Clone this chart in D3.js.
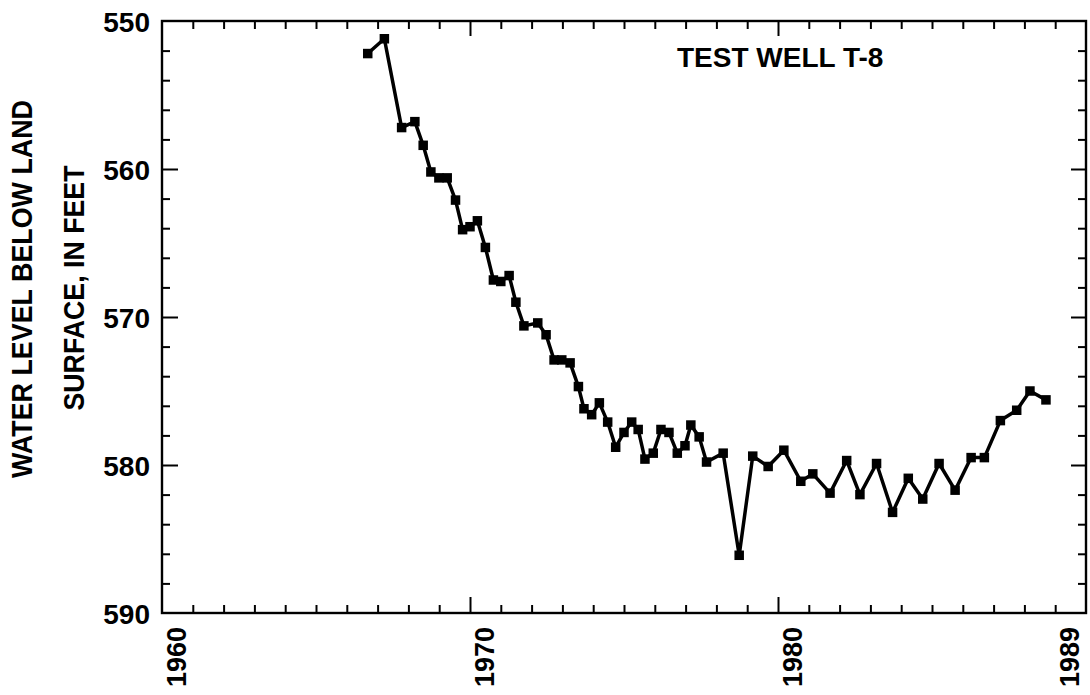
<!DOCTYPE html>
<html>
<head>
<meta charset="utf-8">
<script src="https://cdn.jsdelivr.net/npm/d3@7"></script>
<style>
  html, body { margin: 0; padding: 0; background: #fff; }
  svg { display: block; }
  text { font-family: "Liberation Sans", Arial, Helvetica, sans-serif; font-weight: bold; fill: #000; }
</style>
</head>
<body>
<svg id="chart" width="1090" height="695"></svg>
<script>
// ---- Data ----
const years = [
  1966.68, 1967.22, 1967.78, 1968.21, 1968.48, 1968.73, 1968.99, 1969.26,
  1969.53, 1969.76, 1970.00, 1970.24, 1970.50, 1970.76, 1971.00, 1971.27,
  1971.49, 1971.75, 1972.20, 1972.47, 1972.73, 1972.98, 1973.25, 1973.52,
  1973.70, 1973.95, 1974.20, 1974.47, 1974.73, 1975.00, 1975.25, 1975.46,
  1975.68, 1975.95, 1976.20, 1976.46, 1976.73, 1976.98, 1977.17, 1977.44,
  1977.68, 1978.22, 1978.74, 1979.18, 1979.68, 1980.19, 1980.74, 1981.13,
  1981.69, 1982.23, 1982.66, 1983.20, 1983.72, 1984.23, 1984.70, 1985.23,
  1985.75, 1986.27, 1986.70, 1987.22, 1987.75, 1988.18, 1988.70
];
const levels = [
  552.2, 551.2, 557.2, 556.8, 558.4, 560.2, 560.6, 560.6,
  562.1, 564.1, 563.9, 563.5, 565.3, 567.5, 567.6, 567.2,
  569.0, 570.6, 570.4, 571.2, 572.9, 572.9, 573.1, 574.7,
  576.2, 576.6, 575.8, 577.1, 578.8, 577.8, 577.1, 577.6,
  579.6, 579.2, 577.6, 577.8, 579.2, 578.7, 577.3, 578.1,
  579.8, 579.2, 586.1, 579.4, 580.1, 579.0, 581.1, 580.6,
  581.9, 579.7, 582.0, 579.9, 583.2, 580.9, 582.3, 579.9,
  581.7, 579.5, 579.5, 577.0, 576.3, 575.0, 575.6
];
const yTickValues = [550, 560, 570, 580, 590];
const yTickLabels = ["550", "560", "570", "580", "590"];
const xLabelYears = [1960, 1970, 1980, 1989];
const xTickLabels = ["1960", "1970", "1980", "1989"];
const title = "TEST WELL T-8";
const yTitleLines = ["WATER LEVEL BELOW LAND", "SURFACE, IN FEET"];

// ---- Layout ----
const svg = d3.select("#chart");
const L = 162, R = 1086, T = 21, B = 613;
const x = d3.scaleLinear().domain([1960, 1990]).range([L, R]);
const y = d3.scaleLinear().domain([550, 590]).range([T, B]);

const minorX = d3.range(1961, 1990).filter(v => v % 10 !== 0);
const majorX = [1970, 1980];
const minorY = d3.range(552, 590, 2).filter(v => v % 10 !== 0);
const majorY = [560, 570, 580];

// Ticks via d3 axes (inward)
function axisG(axis, tx, ty) {
  const g = svg.append("g").attr("transform", `translate(${tx},${ty})`).call(axis);
  g.select(".domain").remove();
  g.selectAll("text").remove();
  g.selectAll("line").attr("stroke", "#000").attr("stroke-width", 2);
  return g;
}
axisG(d3.axisBottom(x).tickValues(minorX).tickSize(-8), 0, B);
axisG(d3.axisBottom(x).tickValues(majorX).tickSize(-16), 0, B);
axisG(d3.axisTop(x).tickValues(minorX).tickSize(-8), 0, T);
axisG(d3.axisTop(x).tickValues(majorX).tickSize(-15), 0, T);
axisG(d3.axisLeft(y).tickValues(minorY).tickSize(-8), L, 0);
axisG(d3.axisLeft(y).tickValues(majorY).tickSize(-16), L, 0);
axisG(d3.axisRight(y).tickValues(minorY).tickSize(-8), R, 0);
axisG(d3.axisRight(y).tickValues(majorY).tickSize(-15), R, 0);

// Frame
svg.append("rect")
  .attr("x", L).attr("y", T).attr("width", R - L).attr("height", B - T)
  .attr("fill", "none").attr("stroke", "#000").attr("stroke-width", 2.4);

// Y tick labels
const yl = svg.append("g").attr("transform", `translate(${L},0)`)
  .call(d3.axisLeft(y).tickValues(yTickValues).tickSize(0).tickPadding(12)
        .tickFormat((d, i) => yTickLabels[i]));
yl.select(".domain").remove();
yl.selectAll("text").attr("font-size", 28).attr("dy", "0.36em")
  .style("font-family", "'Liberation Sans', Arial, sans-serif").style("font-weight", "bold");

// X tick labels (rotated)
svg.append("g").selectAll("text").data(xLabelYears).join("text")
  .attr("transform", d => `translate(${x(d + 0.45)},627) rotate(-90)`)
  .attr("text-anchor", "end")
  .attr("dy", "0.36em")
  .attr("font-size", 27)
  .text((d, i) => xTickLabels[i]);

// Y-axis title (two rotated lines)
svg.append("text")
  .attr("transform", "translate(32,289) rotate(-90)")
  .attr("text-anchor", "middle")
  .attr("font-size", 30)
  .attr("textLength", 378).attr("lengthAdjust", "spacingAndGlyphs")
  .text(yTitleLines[0]);
svg.append("text")
  .attr("transform", "translate(84,288) rotate(-90)")
  .attr("text-anchor", "middle")
  .attr("font-size", 30)
  .attr("textLength", 245).attr("lengthAdjust", "spacingAndGlyphs")
  .text(yTitleLines[1]);

// Title inside plot
svg.append("text")
  .attr("x", 677).attr("y", 67)
  .attr("font-size", 28)
  .text(title);

// Series
const pts = years.map((t, i) => [t, levels[i]]);
svg.append("path")
  .datum(pts)
  .attr("fill", "none").attr("stroke", "#000").attr("stroke-width", 3.5)
  .attr("stroke-linejoin", "round")
  .attr("d", d3.line().x(d => x(d[0])).y(d => y(d[1])));

const s = 9.5;
svg.append("g").selectAll("rect").data(pts).join("rect")
  .attr("x", d => x(d[0]) - s / 2).attr("y", d => y(d[1]) - s / 2)
  .attr("width", s).attr("height", s).attr("fill", "#000");
</script>
</body>
</html>
